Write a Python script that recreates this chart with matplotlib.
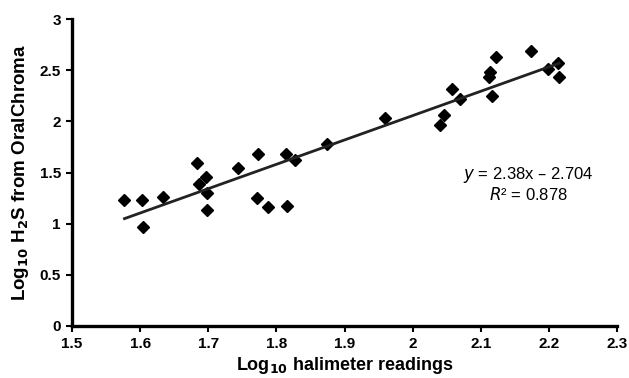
import matplotlib
matplotlib.use("Agg")
import matplotlib.pyplot as plt
import numpy as np
from matplotlib.ticker import FuncFormatter

# log10 halimeter readings vs log10 H2S from OralChroma
halimeter = [1.577, 1.602, 1.604, 1.634, 1.684, 1.686, 1.697, 1.698, 1.698,
             1.744, 1.773, 1.771, 1.787, 1.815, 1.814, 1.827, 1.874, 1.960,
             2.040, 2.046, 2.058, 2.070, 2.112, 2.114, 2.117, 2.123, 2.174,
             2.199, 2.214, 2.215]
oralchroma = [1.23, 1.23, 0.97, 1.26, 1.59, 1.39, 1.46, 1.30, 1.13,
              1.54, 1.68, 1.25, 1.16, 1.17, 1.68, 1.62, 1.78, 2.03,
              1.96, 2.06, 2.32, 2.22, 2.43, 2.48, 2.25, 2.63, 2.69,
              2.51, 2.57, 2.43]

slope = 2.38
intercept = -2.704
r_squared = 0.878

x_ticks = [1.5, 1.6, 1.7, 1.8, 1.9, 2.0, 2.1, 2.2, 2.3]
y_ticks = [0, 0.5, 1, 1.5, 2, 2.5, 3]

plt.rcParams["font.family"] = ["Liberation Sans", "DejaVu Sans"]

fig = plt.figure(figsize=(6.29, 3.78), dpi=100)
ax = fig.add_axes([0.1145, 0.1376, 0.8665, 0.8121])

ax.plot(halimeter, oralchroma, linestyle="none", marker="D", markersize=5.8,
        color="black")

x_fit = np.array([min(halimeter), max(halimeter)])
ax.plot(x_fit, slope * x_fit + intercept, color="#222222", linewidth=2)

ax.set_xlim(1.5, 2.3)
ax.set_ylim(0, 3)
ax.set_xticks(x_ticks)
ax.set_yticks(y_ticks)
ax.xaxis.set_major_formatter(FuncFormatter(lambda v, p: f"{v:g}"))
ax.yaxis.set_major_formatter(FuncFormatter(lambda v, p: f"{v:g}"))

for side in ("top", "right"):
    ax.spines[side].set_visible(False)
ax.spines["left"].set_linewidth(2.4)
ax.spines["bottom"].set_linewidth(2.4)
ax.tick_params(direction="out", length=4, width=1.5, labelsize=11,
               pad=4)
for lbl in ax.get_xticklabels() + ax.get_yticklabels():
    lbl.set_fontweight("bold")

ax.set_xlabel(r"Log$_{\mathbf{10}}$ halimeter readings", fontsize=13,
              fontweight="bold", labelpad=3)
ax.set_ylabel(r"Log$_{\mathbf{10}}$ H$_{\mathbf{2}}$S from OralChroma",
              fontsize=13.5, fontweight="bold", labelpad=6)

eq_text = (f"$y$ = {slope:g}x \u2013 {abs(intercept):g}\n"
           f"$R$\u00b2 = {r_squared:g}")
ax.text(2.17, 1.385, eq_text, ha="center", va="center", fontsize=12,
        multialignment="center", linespacing=1.05)

fig.savefig("out.png", dpi=100)
